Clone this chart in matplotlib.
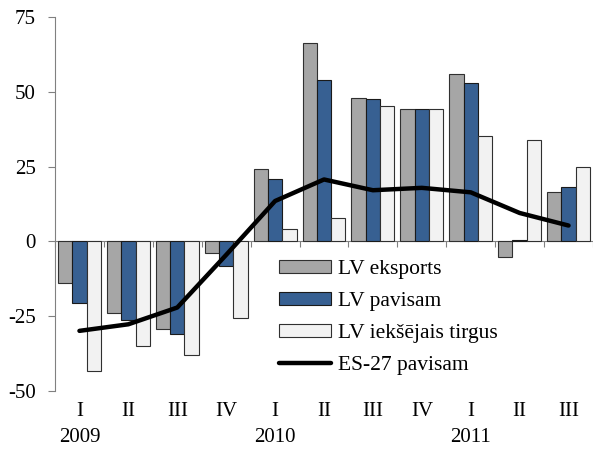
import matplotlib
matplotlib.use("Agg")
import matplotlib.pyplot as plt
import numpy as np

plt.rcParams["font.family"] = ["Liberation Serif", "DejaVu Serif"]
plt.rcParams["axes.unicode_minus"] = False

# ceturkšņi un gadi
ceturksni = ["I", "II", "III", "IV", "I", "II", "III", "IV", "I", "II", "III"]
gadi = {0: "2009", 4: "2010", 8: "2011"}

lv_eksports = [-14.0, -23.8, -29.2, -4.0, 24.3, 66.2, 47.9, 44.3, 55.8, -5.3, 16.4]
lv_pavisam = [-20.7, -26.2, -31.1, -8.1, 21.0, 54.0, 47.6, 44.3, 52.9, 0.5, 18.1]
lv_iekszemes = [-43.2, -34.8, -38.0, -25.6, 4.0, 7.9, 45.4, 44.3, 35.1, 34.0, 24.9]
es27_pavisam = [-29.9, -27.7, -22.1, -4.5, 13.5, 20.7, 17.1, 17.9, 16.4, 9.5, 5.3]

fig = plt.figure(figsize=(5.93, 4.5), dpi=100)
ax = fig.add_axes([55 / 593, 59 / 450, 538 / 593, 374 / 450])

x = np.arange(len(ceturksni)) + 0.5
w = 0.293
edge = "#303030"
b1 = ax.bar(x - w, lv_eksports, w, color="#A6A6A6", edgecolor=edge, linewidth=0.8,
            label="LV eksports", zorder=2)
b2 = ax.bar(x, lv_pavisam, w, color="#376092", edgecolor="#1a1a1a", linewidth=0.8,
            label="LV pavisam", zorder=2)
b3 = ax.bar(x + w, lv_iekszemes, w, color="#F2F2F2", edgecolor=edge, linewidth=0.8,
            label="LV iekšējais tirgus", zorder=2)
l1, = ax.plot(x, es27_pavisam, color="black", linewidth=3.2, label="ES-27 pavisam",
              zorder=3, solid_capstyle="round")

ax.set_xlim(0, len(ceturksni))
ax.set_ylim(-50, 75)
ax.set_yticks([-50, -25, 0, 25, 50, 75])
ax.tick_params(axis="y", length=5, width=0.8, color="#808080", labelsize=15, pad=9)

for s in ["top", "right"]:
    ax.spines[s].set_visible(False)
ax.spines["left"].set_color("#808080")
ax.spines["bottom"].set_color("#808080")
ax.spines["bottom"].set_position(("data", 0))
ax.spines["bottom"].set_zorder(1)

ax.set_xticks(np.arange(0, len(ceturksni) + 1))
ax.set_xticklabels([])
ax.tick_params(axis="x", direction="out", length=4, width=0.8, color="#808080")

tr = ax.get_xaxis_transform()
for i, c in enumerate(ceturksni):
    ax.text(x[i], -0.056, c, transform=tr, ha="center", va="center", fontsize=15)
    if i in gadi:
        ax.text(x[i], -0.125, gadi[i], transform=tr, ha="center", va="center",
                fontsize=15)

fig.legend(handles=[b1, b2, b3, l1], loc="upper left",
           bbox_to_anchor=(279 / 593, 0.423), frameon=False,
           fontsize=15.5, borderpad=0, borderaxespad=0, handlelength=2.4,
           handleheight=0.57, labelspacing=0.6, handletextpad=0.35)

fig.savefig("out.png", dpi=100)
